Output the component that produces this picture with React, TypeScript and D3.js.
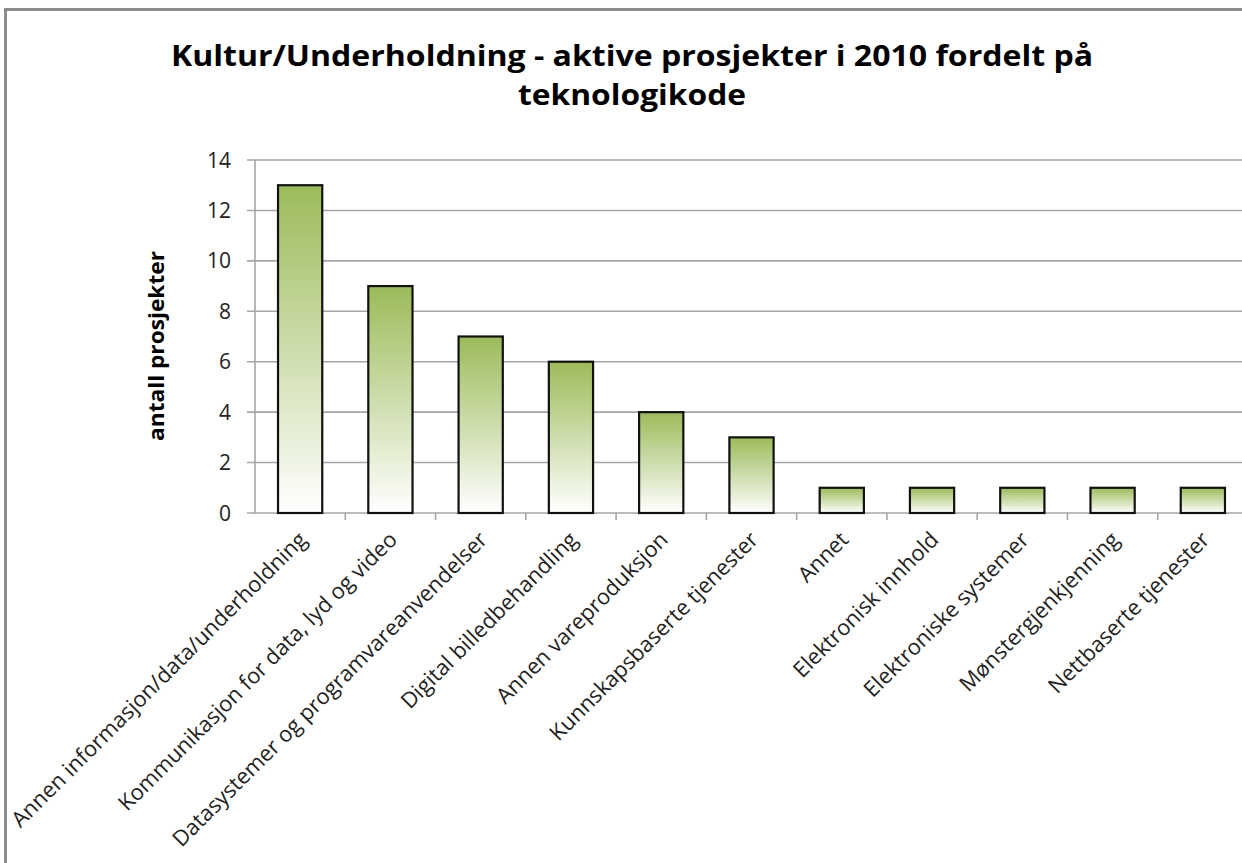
import React from "react";
import * as d3 from "d3";

const categories = [
  "Annen informasjon/data/underholdning",
  "Kommunikasjon for data, lyd og video",
  "Datasystemer og programvareanvendelser",
  "Digital billedbehandling",
  "Annen vareproduksjon",
  "Kunnskapsbaserte tjenester",
  "Annet",
  "Elektronisk innhold",
  "Elektroniske systemer",
  "Mønstergjenkjenning",
  "Nettbaserte tjenester",
];
const values = [13, 9, 7, 6, 4, 3, 1, 1, 1, 1, 1];
const yTicks = [0, 2, 4, 6, 8, 10, 12, 14];
const titleLines = ["Kultur/Underholdning - aktive prosjekter i 2010 fordelt på", "teknologikode"];
const yLabel = "antall prosjekter";

export default function App() {
  const W = 1242, H = 863;
  const left = 255, right = 1248, top = 160, bottom = 513;
  const x = d3.scaleBand<string>().domain(categories).range([left, right]).paddingInner(0.51).paddingOuter(0.255);
  const xb = d3.scaleBand<string>().domain(categories).range([left, right]);
  const y = d3.scaleLinear().domain([0, 14]).range([bottom, top]);
  const font = "'Open Sans', sans-serif";
  const titleLens = [922, 228];
  return (
    <svg width={W} height={H} style={{ position: "absolute", left: 0, top: 0 }}>
      <defs>
        <linearGradient id="g" x1="0" y1="0" x2="0" y2="1">
          <stop offset="0" stopColor="#9bbb59" />
          <stop offset="1" stopColor="#ffffff" />
        </linearGradient>
      </defs>
      <rect x={0} y={0} width={W} height={H} fill="#fff" />
      <rect x={5.5} y={9.5} width={W + 20} height={H + 20} fill="none" stroke="#8c8c8c" strokeWidth={3} />
      {titleLines.map((t, i) => (
        <text key={i} x={632} y={66 + i * 38.5} textAnchor="middle" fontFamily={font} fontWeight="bold" fontSize={28.5}
          textLength={titleLens[i]} lengthAdjust="spacingAndGlyphs" fill="#000">
          {t}
        </text>
      ))}
      {yTicks.map((t) => (
        <g key={t}>
          <line x1={left - 8} x2={right} y1={y(t)} y2={y(t)} stroke="#a6a6a6" strokeWidth={1.6} />
          <text x={231} y={y(t)} dy="0.36em" textAnchor="end" fontFamily={font} fontSize={21} fill="#222">
            {t}
          </text>
        </g>
      ))}
      <line x1={left} x2={left} y1={top} y2={bottom} stroke="#a6a6a6" strokeWidth={1.6} />
      {categories.map((c, i) => (
        <line key={"t" + i} x1={xb(c)! + xb.bandwidth()} x2={xb(c)! + xb.bandwidth()} y1={bottom} y2={bottom + 7} stroke="#a6a6a6" strokeWidth={1.6} />
      ))}
      {categories.map((c, i) => (
        <rect key={"b" + i} x={x(c)} y={y(values[i])} width={x.bandwidth()} height={y(0) - y(values[i])} fill="url(#g)" stroke="#111" strokeWidth={2.2} />
      ))}
      {categories.map((c, i) => {
        const cx = xb(c)! + xb.bandwidth() / 2 + 8;
        const cy = 541;
        return (
          <text key={"l" + i} x={cx} y={cy} transform={`rotate(-45 ${cx} ${cy})`} textAnchor="end" fontFamily={font} fontSize={21.8} fill="#222">
            {c}
          </text>
        );
      })}
      <text x={164} y={346} transform="rotate(-90 164 346)" textAnchor="middle" fontFamily={font} fontWeight="bold" fontSize={21}
        textLength={190} lengthAdjust="spacingAndGlyphs" fill="#000">
        {yLabel}
      </text>
    </svg>
  );
}
